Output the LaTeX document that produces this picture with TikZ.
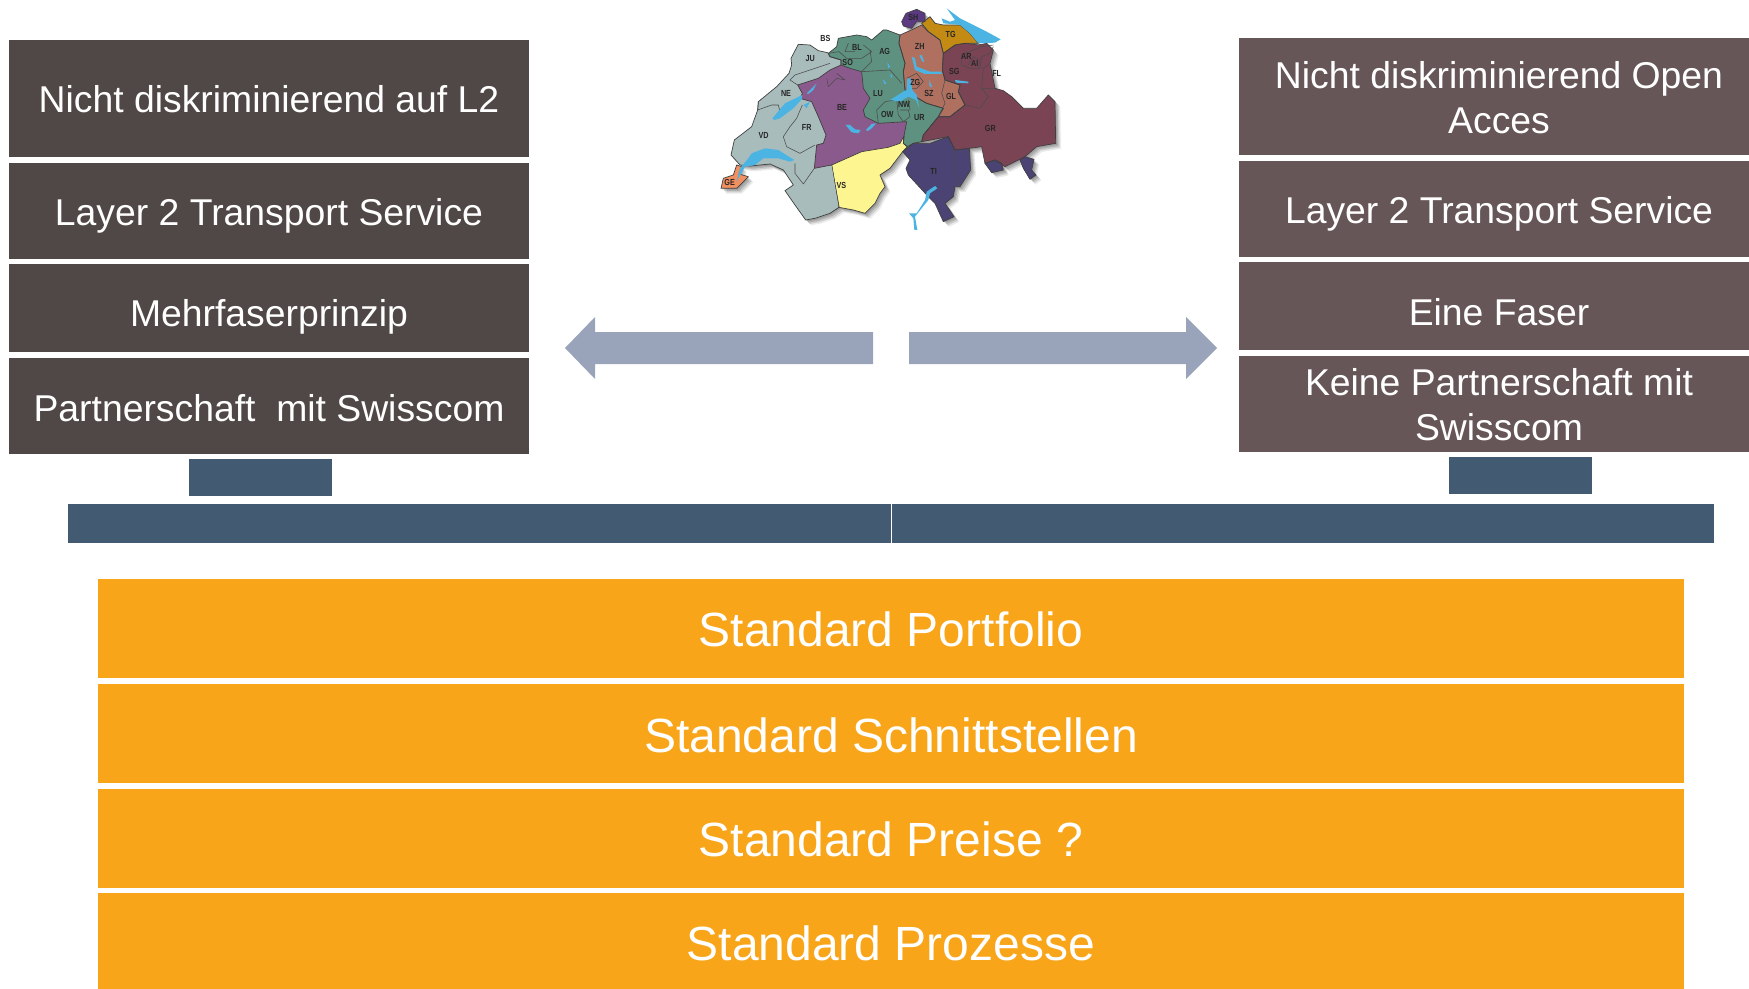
\documentclass[tikz,border=0pt]{standalone}
\usepackage{fontspec}
\setmainfont{Liberation Sans}
\definecolor{leftbox}{HTML}{504846}
\definecolor{rightbox}{HTML}{665658}
\definecolor{barblue}{HTML}{425B72}
\definecolor{arrowblue}{HTML}{99A4BB}
\definecolor{orangebox}{HTML}{F9A51A}
\definecolor{cgray}{HTML}{A9BCBC}
\definecolor{cpurple}{HTML}{8B5A8C}
\definecolor{cyellow}{HTML}{FDF58F}
\definecolor{cgreen}{HTML}{5E917F}
\definecolor{cpink}{HTML}{B0705F}
\definecolor{cwine}{HTML}{7A4455}
\definecolor{cgold}{HTML}{C38B14}
\definecolor{cviolet}{HTML}{5C3A82}
\definecolor{cnavy}{HTML}{4A4373}
\definecolor{corange}{HTML}{F08F5F}
\definecolor{clake}{HTML}{4CB4E2}
\newcommand{\px}{0.05cm}
\newcommand{\rJuraWest}{(273,175) -- (295,133) -- (330,135) -- (355,152) -- (383,158) -- (390,170) -- (423,180) -- (423,195) -- (390,210) -- (355,235) -- (293,255) -- (307,280) -- (300,295) -- (335,305) -- (355,350) -- (378,405) -- (370,430) -- (350,435) -- (343,505) -- (395,495) -- (417,622) -- (390,640) -- (345,655) -- (317,660) -- (285,615) -- (255,572) -- (280,555) -- (250,510) -- (210,492) -- (150,498) -- (120,495) -- (93,465) -- (103,420) -- (155,380) -- (173,330) -- (175,305) -- (230,260) -- (267,220) -- (275,195) -- cycle}
\newcommand{\rBern}{(293,255) -- (355,235) -- (390,210) -- (423,195) -- (450,205) -- (485,215) -- (490,265) -- (510,295) -- (490,330) -- (495,350) -- (535,370) -- (620,365) -- (612,408) -- (600,430) -- (565,442) -- (485,455) -- (395,495) -- (343,505) -- (350,435) -- (370,430) -- (378,405) -- (355,350) -- (335,305) -- (300,295) -- (307,280) -- cycle}
\newcommand{\rWallis}{(395,495) -- (485,455) -- (565,442) -- (600,430) -- (612,408) -- (610,430) -- (622,440) -- (608,455) -- (570,505) -- (540,525) -- (555,560) -- (540,580) -- (525,610) -- (495,640) -- (460,630) -- (417,622) -- cycle}
\newcommand{\rNorth}{(385,160) -- (410,140) -- (415,115) -- (470,105) -- (500,110) -- (515,120) -- (550,90) -- (560,90) -- (600,105) -- (597,130) -- (615,190) -- (610,215) -- (615,270) -- (645,290) -- (680,310) -- (730,325) -- (715,350) -- (670,405) -- (665,425) -- (640,430) -- (622,440) -- (610,430) -- (612,408) -- (620,365) -- (535,370) -- (495,350) -- (490,330) -- (510,295) -- (490,265) -- (485,215) -- (450,205) -- (423,195) -- (423,180) -- (390,170) -- cycle}
\newcommand{\rZurich}{(600,105) -- (645,85) -- (665,75) -- (685,95) -- (720,120) -- (730,160) -- (727,210) -- (735,240) -- (780,255) -- (775,275) -- (795,315) -- (750,350) -- (715,350) -- (730,325) -- (680,310) -- (645,290) -- (615,270) -- (610,215) -- (615,190) -- (597,130) -- cycle}
\newcommand{\rGraubunden}{(730,160) -- (765,135) -- (795,130) -- (835,135) -- (860,130) -- (880,150) -- (870,190) -- (875,215) -- (885,265) -- (910,272) -- (935,290) -- (970,325) -- (1010,325) -- (1045,285) -- (1065,305) -- (1067,430) -- (1010,440) -- (975,470) -- (915,500) -- (885,480) -- (855,490) -- (845,440) -- (808,445) -- (765,450) -- (745,410) -- (665,425) -- (670,405) -- (715,350) -- (750,350) -- (795,315) -- (775,275) -- (780,255) -- (735,240) -- (727,210) -- cycle}
\newcommand{\rThurgau}{(665,70) -- (690,50) -- (705,70) -- (730,75) -- (780,75) -- (810,100) -- (835,130) -- (795,130) -- (765,135) -- (730,160) -- (720,120) -- (685,95) -- cycle}
\newcommand{\rSchaffhausen}{(605,65) -- (618,40) -- (650,28) -- (675,40) -- (675,65) -- (650,65) -- (635,85) -- (610,78) -- cycle}
\newcommand{\rTessin}{(608,455) -- (640,430) -- (690,430) -- (745,410) -- (765,450) -- (808,445) -- (812,510) -- (780,560) -- (765,560) -- (760,590) -- (735,610) -- (762,650) -- (730,665) -- (705,610) -- (685,590) -- (625,525) -- (618,505) -- (630,480) -- cycle}
\newcommand{\rPatchA}{(855,490) -- (885,480) -- (905,490) -- (910,510) -- (875,518) -- cycle}
\newcommand{\rPatchB}{(960,480) -- (975,470) -- (1002,478) -- (995,510) -- (1008,525) -- (990,538) -- (970,505) -- cycle}
\newcommand{\rGeneva}{(63,565) -- (70,535) -- (100,525) -- (110,495) -- (125,500) -- (117,522) -- (145,530) -- (120,555) -- (110,565) -- cycle}
\tikzset{
  tbase/.code={\pgfmathsetlengthmacro\tbh{(20+2*#1)*0.05cm}\tikzset{text height=\tbh,text depth=1cm}},
  pbox/.style={rectangle,inner sep=0pt,text=white,align=center},
  leftstyle/.style={pbox,fill=leftbox,font=\fontsize{53.1}{64}\selectfont},
  rightstyle/.style={pbox,fill=rightbox,font=\fontsize{53.1}{64}\selectfont},
  orangestyle/.style={pbox,fill=orangebox,font=\fontsize{68.3}{80}\selectfont},
  bluestyle/.style={pbox,fill=barblue},
  arrowstyle/.style={fill=arrowblue,draw=none},
  region/.style={draw=black!75,line width=1pt,line join=round},
  innerline/.style={draw=black!70,line width=0.8pt,line join=round},
  lake/.style={fill=clake,draw=none},
  maplabel/.style={font=\bfseries\fontsize{12.5}{13}\selectfont,text=black!85,inner sep=0pt,transform shape,xscale=0.82}
}
\begin{document}
\begin{tikzpicture}[x=\px,y=-\px]
\useasboundingbox (0,0) rectangle (1749,988);
\clip (0,0) rectangle (1749,988);
% left column
\node[leftstyle,tbase=13.5,minimum width=520*\px,minimum height=117*\px] (l1) at (269,98.5) {Nicht diskriminierend auf L2};
\node[leftstyle,tbase=14.1,minimum width=520*\px,minimum height=96*\px] (l2) at (269,211) {Layer 2 Transport Service};
\node[leftstyle,tbase=18.5,minimum width=520*\px,minimum height=88.5*\px] (l3) at (269,308.2) {Mehrfaserprinzip};
\node[leftstyle,tbase=15.2,minimum width=520*\px,minimum height=96*\px] (l4) at (269,406) {Partnerschaft~ mit Swisscom};
% right column
\node[rightstyle,minimum width=520*\px,minimum height=117*\px] (r1) at (1499,96.5) {\rule{0pt}{41.3pt}Nicht diskriminierend Open\\Acces};
\node[rightstyle,tbase=14.1,minimum width=520*\px,minimum height=96*\px] (r2) at (1499,209) {Layer 2 Transport Service};
\node[rightstyle,tbase=19.7,minimum width=520*\px,minimum height=88*\px] (r3) at (1499,306) {Eine Faser};
\node[rightstyle,minimum width=520*\px,minimum height=96*\px] (r4) at (1499,404) {\rule{0pt}{41.3pt}Keine Partnerschaft mit\\Swisscom};
% blue bars
\node[bluestyle,minimum width=143*\px,minimum height=37*\px] (s1) at (260.5,477.5) {};
\node[bluestyle,minimum width=143*\px,minimum height=37*\px] (s2) at (1520.5,475.5) {};
\node[bluestyle,minimum width=823*\px,minimum height=39*\px] (b1) at (479,523.5) {};
\node[bluestyle,minimum width=822*\px,minimum height=39*\px] (b2) at (1303,523.5) {};
% orange bars
\node[orangestyle,tbase=17.5,minimum width=1586*\px,minimum height=99*\px] (o1) at (891,628.5) {Standard Portfolio};
\node[orangestyle,tbase=18.6,minimum width=1586*\px,minimum height=99*\px] (o2) at (891,733.5) {Standard Schnittstellen};
\node[orangestyle,tbase=17.5,minimum width=1586*\px,minimum height=99*\px] (o3) at (891,838.5) {Standard Preise ?};
\node[orangestyle,tbase=17.9,minimum width=1586*\px,minimum height=100*\px] (o4) at (891,943) {Standard Prozesse};
% arrows
\fill[arrowstyle] (565,348) -- (595,317) -- (595,332) -- (873,332) -- (873,364) -- (595,364) -- (595,379) -- cycle;
\fill[arrowstyle] (1217,348) -- (1186,317) -- (1186,332) -- (909,332) -- (909,364) -- (1186,364) -- (1186,379) -- cycle;
% map
\begin{scope}[shift={(700,0)},x=\px/3,y=-\px/3]
  \foreach \d/\o in {4/0.12,8/0.14,12/0.12,16/0.08}{
    \begin{scope}[shift={(\d,\d)}]
      \fill[black,opacity=\o] \rJuraWest \rBern \rWallis \rNorth \rZurich \rGraubunden \rThurgau \rSchaffhausen \rTessin \rPatchA \rPatchB \rGeneva;
    \end{scope}
  }
  \fill[cgray] \rJuraWest;
  \fill[cpurple] \rBern;
  \fill[cyellow] \rWallis;
  \fill[cgreen] \rNorth;
  \fill[cpink] \rZurich;
  \fill[cwine] \rGraubunden;
  \fill[cgold] \rThurgau;
  \fill[cviolet] \rSchaffhausen;
  \fill[cnavy] \rTessin;
  \fill[cnavy] \rPatchA;
  \fill[cnavy] \rPatchB;
  \fill[corange] \rGeneva;
  \draw[region] \rJuraWest;
  \draw[region] \rWallis;
  \draw[region] \rNorth;
  \draw[region] \rZurich;
  \draw[region] \rGraubunden;
  \draw[region] \rThurgau;
  \draw[region] \rTessin;
  \draw[region] \rGeneva;
  \draw[region] \rSchaffhausen;
  \draw[region] \rPatchA;
  \draw[region] \rPatchB;
  % repaint border-free colour joins
  \fill[cgray] (395,497) -- (415,618) -- (345,650) -- (347,508) -- cycle;
  % inner borders
  \draw[innerline] (293,255) -- (270,240) -- (285,225) -- (330,210) -- (390,190);
  \draw[innerline] (175,305) -- (173,330) -- (215,315) -- (235,315) -- (240,335) -- (235,355);
  \draw[innerline] (307,315) -- (290,355) -- (270,380) -- (250,410) -- (260,440) -- (300,460) -- (345,435);
  \draw[innerline] (285,490) -- (285,520) -- (310,552) -- (343,505);
  \draw[innerline] (380,235) -- (385,260) -- (410,235) -- (435,240) -- (410,220);
  \draw[innerline] (385,160) -- (417,155) -- (440,175) -- (485,175) -- (515,155) -- (490,135);
  \draw[innerline] (485,215) -- (515,185) -- (510,150);
  \draw[innerline] (445,130) -- (435,155) -- (465,155);
  \draw[innerline] (485,215) -- (570,210) -- (605,250);
  \draw[innerline] (535,370) -- (530,330) -- (555,305) -- (615,295);
  \draw[innerline] (590,300) -- (595,345) -- (610,365) -- (630,350) -- (625,330) -- (600,330);
  \draw[innerline] (625,300) -- (630,330);
  \draw[innerline] (620,235) -- (650,220) -- (670,245) -- (650,265) -- (620,265);
  \draw[innerline] (735,240) -- (725,280) -- (735,310) -- (715,350);
  \draw[innerline] (845,265) -- (865,290) -- (840,325) -- (795,315);
  \draw[innerline] (870,190) -- (850,205) -- (845,265) -- (885,265);
  \draw[innerline] (785,165) -- (845,140) -- (880,135);
  \draw[innerline] (785,165) -- (785,195) -- (810,205) -- (840,205) -- (845,170) -- (870,160) -- (880,140);
  \draw[innerline] (805,195) -- (820,170) -- (840,180) -- (835,205);
  \draw[innerline] (765,450) -- (760,510) -- (780,560);
  % lakes
  \fill[lake] (110,545) -- (120,505) -- (145,475) -- (155,460) -- (195,445) -- (235,450) -- (283,480) -- (270,485) -- (235,475) -- (190,475) -- (165,495) -- (135,500) -- cycle;
  \fill[lake] (217,355) -- (255,310) -- (307,285) -- (305,298) -- (280,325) -- (240,355) -- (223,360) -- cycle;
  \fill[lake] (320,280) -- (350,250) -- (340,270) -- (325,282) -- cycle;
  \fill[lake] (310,315) -- (330,305) -- (320,325) -- cycle;
  \fill[lake] (740,25) -- (780,55) -- (820,75) -- (860,95) -- (902,118) -- (885,128) -- (835,130) -- (810,100) -- (780,75) -- (730,70) -- (725,55) -- (750,65) -- (765,60) -- cycle;
  \fill[lake] (635,170) -- (645,175) -- (650,200) -- (690,215) -- (725,215) -- (725,222) -- (675,222) -- (645,210) -- cycle;
  \fill[lake] (658,167) -- (665,165) -- (673,185) -- (667,185) -- cycle;
  \fill[lake] (570,300) -- (610,275) -- (620,270) -- (622,235) -- (632,235) -- (637,270) -- (650,285) -- (658,325) -- (648,300) -- (625,290) -- (600,305) -- cycle;
  \fill[lake] (437,375) -- (450,375) -- (465,388) -- (482,390) -- (475,400) -- (455,397) -- cycle;
  \fill[lake] (498,390) -- (515,372) -- (528,370) -- (515,385) -- (503,393) -- cycle;
  \fill[lake] (705,558) -- (712,565) -- (690,580) -- (685,600) -- (665,625) -- (645,650) -- (652,690) -- (643,690) -- (640,655) -- (627,640) -- (650,640) -- (675,600) -- (680,575) -- cycle;
  \fill[lake] (765,240) -- (805,245) -- (805,250) -- (768,248) -- cycle;
  \fill[lake] (562,187) -- (570,200) -- (565,205) -- cycle;
  \fill[lake] (548,237) -- (560,250) -- (553,252) -- cycle;
  \fill[lake] (572,220) -- (578,232) -- (572,232) -- cycle;
  \fill[lake] (688,240) -- (697,262) -- (688,258) -- cycle;
  % canton labels
  \node[maplabel] (SH) at (640,52) {SH};
  \node[maplabel] (TG) at (752,102) {TG};
  \node[maplabel] (BS) at (376,115) {BS};
  \node[maplabel] (BL) at (471,143) {BL};
  \node[maplabel] (AG) at (554,153) {AG};
  \node[maplabel] (ZH) at (659,140) {ZH};
  \node[maplabel] (AR) at (799,170) {AR};
  \node[maplabel] (AI) at (824,190) {AI};
  \node[maplabel] (SG) at (763,215) {SG};
  \node[maplabel] (FL) at (890,219) {FL};
  \node[maplabel] (JU) at (331,175) {JU};
  \node[maplabel] (SO) at (443,188) {SO};
  \node[maplabel] (ZG) at (646,246) {ZG};
  \node[maplabel] (NE) at (258,281) {NE};
  \node[maplabel] (LU) at (534,280) {LU};
  \node[maplabel] (SZ) at (687,281) {SZ};
  \node[maplabel] (GL) at (753,289) {GL};
  \node[maplabel] (BE) at (426,321) {BE};
  \node[maplabel] (NW) at (612,313) {NW};
  \node[maplabel] (OW) at (562,343) {OW};
  \node[maplabel] (UR) at (658,353) {UR};
  \node[maplabel] (VD) at (191,405) {VD};
  \node[maplabel] (FR) at (320,382) {FR};
  \node[maplabel] (GR) at (871,386) {GR};
  \node[maplabel] (VS) at (424,556) {VS};
  \node[maplabel] (TI) at (701,513) {TI};
  \node[maplabel] (GE) at (89,548) {GE};
\end{scope}
\end{tikzpicture}
\end{document}
